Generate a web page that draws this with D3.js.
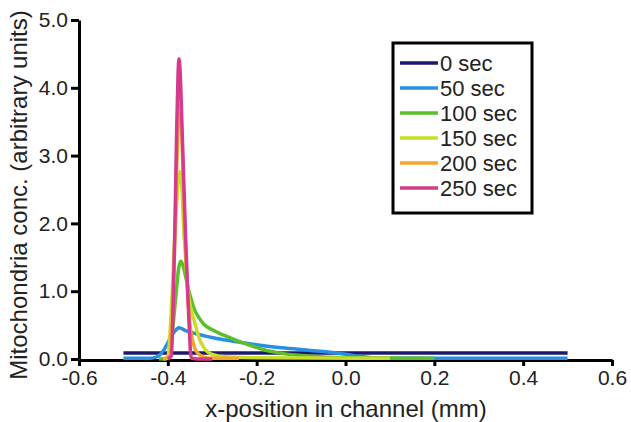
<html>
<head>
<script src="https://d3js.org/d3.v7.min.js"></script>
<style>
  body { margin: 0; background: #fff; font-family: 'Liberation Sans', Arial, sans-serif; }
  svg text { font-family: 'Liberation Sans', Arial, sans-serif; fill: #222; }
</style>
</head>
<body>
<svg id="chart" width="631" height="422"></svg>
<script>
// series labels + colours
var labels = ["0 sec", "50 sec", "100 sec", "150 sec", "200 sec", "250 sec"];
var colors = ["#1c1a6c", "#2a8fe0", "#5cbf2a", "#c9dc2a", "#f9a32c", "#d53a8c"];

var xTicks = [-0.6, -0.4, -0.2, 0.0, 0.2, 0.4, 0.6];
var yTicks = [0, 1, 2, 3, 4, 5];

// [x (mm), concentration]
var sec0 = [[-0.5, 0.09], [0.5, 0.09]];
var sec50 = [[-0.5, 0.01], [-0.44, 0.01], [-0.43, 0.02], [-0.42, 0.05], [-0.41, 0.12], [-0.40, 0.24],
  [-0.39, 0.36], [-0.38, 0.44], [-0.375, 0.46], [-0.36, 0.42], [-0.34, 0.38], [-0.31, 0.33],
  [-0.28, 0.29], [-0.24, 0.25], [-0.20, 0.21], [-0.15, 0.17], [-0.10, 0.14], [-0.05, 0.11],
  [0.0, 0.07], [0.03, 0.04], [0.06, 0.02], [0.10, 0.01], [0.5, 0.01]];
var sec100 = [[-0.42, 0.0], [-0.40, 0.01], [-0.395, 0.12], [-0.39, 0.38], [-0.385, 0.72], [-0.38, 1.06],
  [-0.376, 1.32], [-0.371, 1.44], [-0.366, 1.38], [-0.36, 1.22], [-0.355, 1.07], [-0.35, 0.94],
  [-0.345, 0.83], [-0.34, 0.73], [-0.33, 0.61], [-0.32, 0.52], [-0.30, 0.43], [-0.27, 0.34],
  [-0.24, 0.26], [-0.21, 0.19], [-0.18, 0.13], [-0.15, 0.09], [-0.10, 0.05], [-0.05, 0.03],
  [0.0, 0.02], [0.2, 0.01]];
var sec150 = [[-0.41, 0.0], [-0.40, 0.02], [-0.395, 0.4], [-0.39, 1.0], [-0.385, 1.7], [-0.38, 2.3],
  [-0.376, 2.65], [-0.372, 2.76], [-0.368, 2.5], [-0.365, 2.0], [-0.36, 1.5], [-0.355, 1.05],
  [-0.35, 0.8], [-0.34, 0.55], [-0.33, 0.32], [-0.32, 0.18], [-0.31, 0.1], [-0.29, 0.05],
  [-0.26, 0.03], [-0.2, 0.02], [0.1, 0.01]];
var sec200 = [[-0.41, 0.0], [-0.395, 0.05], [-0.39, 0.6], [-0.385, 1.6], [-0.38, 2.8], [-0.376, 3.6],
  [-0.373, 3.88], [-0.37, 3.6], [-0.366, 2.8], [-0.362, 2.0], [-0.358, 1.3], [-0.354, 0.8],
  [-0.35, 0.5], [-0.345, 0.3], [-0.34, 0.17], [-0.33, 0.07], [-0.32, 0.03], [-0.30, 0.01], [-0.24, 0.01]];
var sec250 = [[-0.40, 0.0], [-0.392, 0.05], [-0.388, 0.8], [-0.384, 2.0], [-0.38, 3.4], [-0.377, 4.2],
  [-0.375, 4.43], [-0.372, 4.2], [-0.368, 3.4], [-0.364, 2.6], [-0.36, 1.8], [-0.356, 1.1],
  [-0.352, 0.5], [-0.349, 0.1], [-0.347, 0.01], [-0.33, 0.0], [-0.30, 0.0]];

var series = [sec0, sec50, sec100, sec150, sec200, sec250];

var svg = d3.select("#chart");

var x = d3.scaleLinear().domain([-0.6, 0.6]).range([79, 612]);
var y = d3.scaleLinear().domain([0, 5]).range([359, 20]);

var fmt = function (d) { return d.toFixed(1); };

var line = d3.line()
  .x(function (d) { return x(d[0]); })
  .y(function (d) { return y(d[1]); })
  .curve(d3.curveMonotoneX);

// x axis
var xAxis = svg.append("g")
  .attr("transform", "translate(0,360)")
  .call(d3.axisBottom(x).tickValues(xTicks).tickFormat(fmt).tickSize(6).tickSizeOuter(0).tickPadding(4));

// y axis
var yAxis = svg.append("g")
  .attr("transform", "translate(79,0)")
  .call(d3.axisLeft(y).tickValues(yTicks).tickFormat(fmt).tickSize(8).tickSizeOuter(0).tickPadding(3));

[xAxis, yAxis].forEach(function (g) {
  g.select(".domain").attr("stroke", "#000").attr("stroke-width", 3);
  g.selectAll(".tick line").attr("stroke", "#000").attr("stroke-width", 3);
  g.selectAll(".tick text").attr("font-size", 21).attr("fill", "#222")
    .attr("font-family", "'Liberation Sans', Arial, sans-serif");
});

svg.selectAll("path.curve")
  .data(series)
  .enter()
  .append("path")
  .attr("class", "curve")
  .attr("fill", "none")
  .attr("stroke", function (d, i) { return colors[i]; })
  .attr("stroke-width", 3.5)
  .attr("stroke-linejoin", "round")
  .attr("d", line);

// axis titles
svg.append("text")
  .attr("x", 346)
  .attr("y", 417)
  .attr("text-anchor", "middle")
  .attr("font-size", 24)
  .text("x-position in channel (mm)");

svg.append("text")
  .attr("transform", "translate(27,195) rotate(-90)")
  .attr("text-anchor", "middle")
  .attr("font-size", 24)
  .text("Mitochondria conc. (arbitrary units)");

// legend
var legend = svg.append("g");
legend.append("rect")
  .attr("x", 393).attr("y", 43)
  .attr("width", 139).attr("height", 170)
  .attr("fill", "#fff")
  .attr("stroke", "#000")
  .attr("stroke-width", 3);

var rows = legend.selectAll("g.row")
  .data(labels)
  .enter()
  .append("g")
  .attr("class", "row")
  .attr("transform", function (d, i) { return "translate(0," + (63 + i * 25) + ")"; });

rows.append("line")
  .attr("x1", 400).attr("x2", 438)
  .attr("stroke", function (d, i) { return colors[i]; })
  .attr("stroke-width", 3.5);

rows.append("text")
  .attr("x", 440)
  .attr("dy", "0.35em")
  .attr("font-size", 22)
  .text(function (d) { return d; });
</script>
</body>
</html>
